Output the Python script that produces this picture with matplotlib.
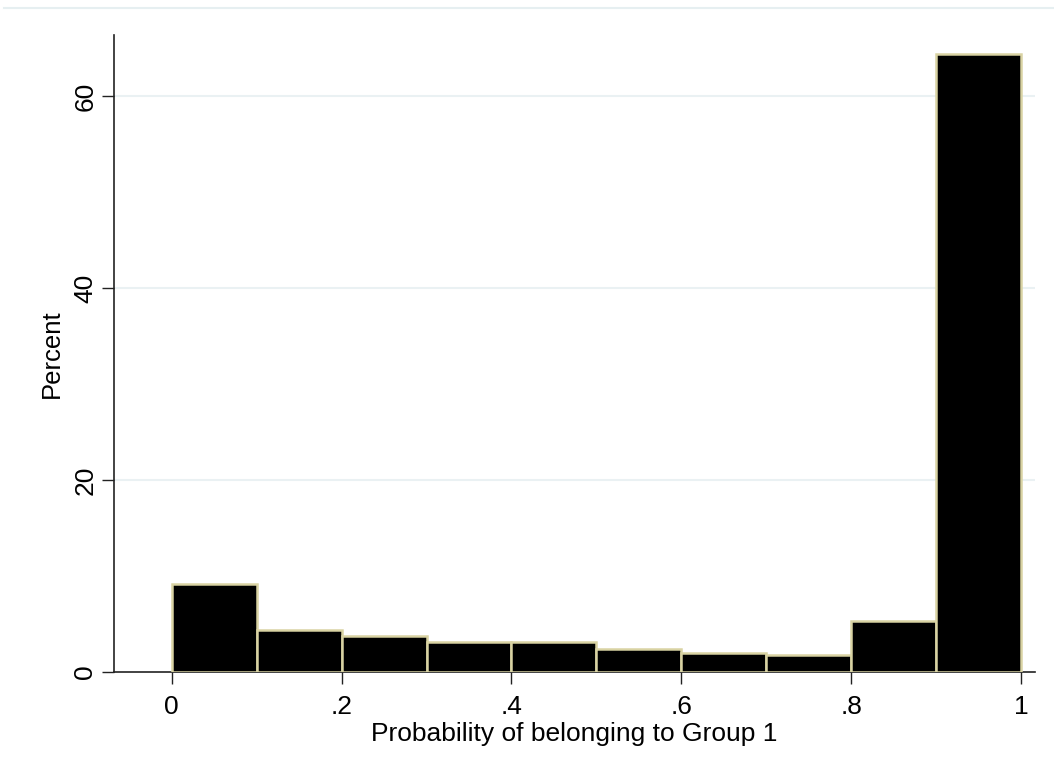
import numpy as np
import matplotlib.pyplot as plt
from matplotlib.lines import Line2D

# Histogram data (percent per bin)
bin_edges = [0.0, 0.1, 0.2, 0.3, 0.4, 0.5, 0.6, 0.7, 0.8, 0.9, 1.0]
percent = [9.17, 4.38, 3.75, 3.13, 3.13, 2.43, 2.01, 1.80, 5.34, 64.4]
x_ticks = [0, 0.2, 0.4, 0.6, 0.8, 1.0]
x_tick_labels = ['0', '.2', '.4', '.6', '.8', '1']
y_ticks = [0, 20, 40, 60]

plt.rcParams['font.family'] = ['Liberation Sans', 'DejaVu Sans']

fig = plt.figure(figsize=(10.54, 7.73), dpi=100)
ax = fig.add_axes([0.1082, 0.1307, 0.982 - 0.1082, 0.9547 - 0.1307])

widths = np.diff(bin_edges)
ax.bar(bin_edges[:-1], percent, width=widths, align='edge',
       color='black', edgecolor='#d9d3a3', linewidth=1.8, zorder=3)

ax.set_xlim(-0.068, 1.0165)
ax.set_ylim(0, 66.35)

for y in y_ticks[1:]:
    ax.axhline(y, color='#eaf1f3', linewidth=1.5, zorder=1)

ax.set_xticks(x_ticks)
ax.set_xticklabels(x_tick_labels)
ax.set_yticks(y_ticks)
ax.set_yticklabels([str(v) for v in y_ticks], rotation=90, va='center')
ax.tick_params(axis='both', direction='out', length=8.6, width=1, labelsize=19,
               color='#222222')
ax.tick_params(axis='x', pad=8)
ax.tick_params(axis='y', pad=3.5)

for side in ['top', 'right']:
    ax.spines[side].set_visible(False)
for side in ['left', 'bottom']:
    ax.spines[side].set_color('#222222')
    ax.spines[side].set_linewidth(1.2)

ax.set_xlabel('Probability of belonging to Group 1', fontsize=19, labelpad=2)
ax.set_ylabel('Percent', fontsize=18.5, labelpad=7)

# faint outer border line at the top
fig.add_artist(Line2D([4 / 1054, 1], [1 - 8 / 773, 1 - 8 / 773],
                      color='#e6eff1', linewidth=1.5))

fig.savefig('out.png', dpi=100, facecolor='white')
